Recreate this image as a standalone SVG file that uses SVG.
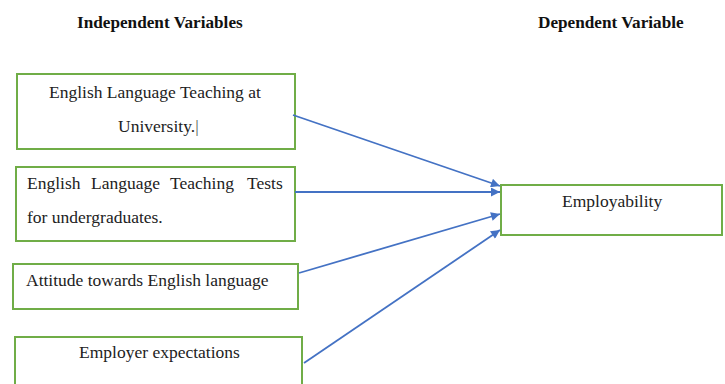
<svg xmlns="http://www.w3.org/2000/svg" width="725" height="384" viewBox="0 0 725 384">
  <defs>
    <style>
      .box { fill: #ffffff; stroke: #70ad47; stroke-width: 2; }
      .head { font-family: "Liberation Serif", "Times New Roman", serif; font-weight: bold; font-size: 17.2px; fill: #111111; }
      .lbl { font-family: "Liberation Serif", "Times New Roman", serif; font-size: 17.5px; fill: #222222; }
      .link { fill: none; stroke: #4472c4; stroke-width: 1.8; marker-end: url(#arrow); }
    </style>
    <marker id="arrow" viewBox="0 0 10 10" refX="10" refY="5" markerUnits="userSpaceOnUse" markerWidth="11" markerHeight="9" orient="auto">
      <path d="M0,0 L10,5 L0,10 z" fill="#4472c4"/>
    </marker>
  </defs>

  <rect width="725" height="384" fill="#ffffff"/>

  <!-- column headings -->
  <text class="head" x="77" y="28">Independent Variables</text>
  <text class="head" x="538" y="28">Dependent Variable</text>

  <g id="node-elt-university">
    <rect class="box" x="17" y="74" width="278" height="75"/>
    <text class="lbl" x="49" y="98">English Language Teaching at</text>
    <text class="lbl" x="118" y="132">University.<tspan fill="#555555">|</tspan></text>
  </g>

  <g id="node-elt-tests">
    <rect class="box" x="16" y="167" width="279" height="74"/>
    <text class="lbl" y="189"><tspan x="27">English</tspan><tspan x="91">Language</tspan><tspan x="170">Teaching</tspan><tspan x="247">Tests</tspan></text>
    <text class="lbl" x="27" y="223">for undergraduates.</text>
  </g>

  <g id="node-attitude">
    <rect class="box" x="13" y="264" width="285" height="45"/>
    <text class="lbl" x="26" y="286">Attitude towards English language</text>
  </g>

  <g id="node-employer">
    <rect class="box" x="15" y="337" width="287" height="60"/>
    <text class="lbl" x="79" y="358">Employer expectations</text>
  </g>

  <g id="node-employability">
    <rect class="box" x="501" y="185" width="221" height="50"/>
    <text class="lbl" x="562" y="207">Employability</text>
  </g>

  <g id="connectors">
    <line class="link" x1="293" y1="115" x2="500" y2="186"/>
    <line class="link" x1="295" y1="192" x2="500" y2="192"/>
    <line class="link" x1="299" y1="273" x2="500" y2="214"/>
    <line class="link" x1="304" y1="363" x2="500" y2="230"/>
  </g>
</svg>
